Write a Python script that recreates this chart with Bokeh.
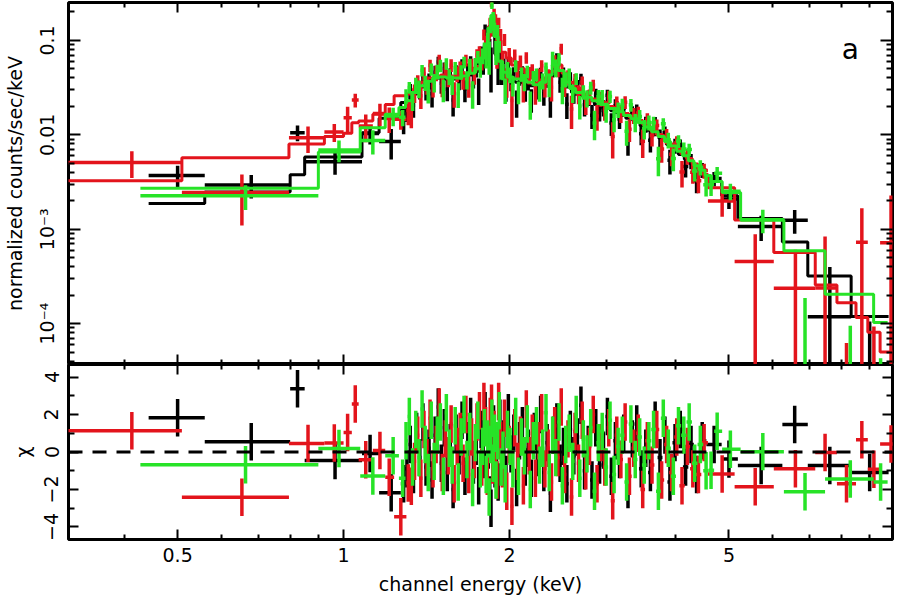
import numpy as np
from bokeh.plotting import figure
from bokeh.models import Range1d, LogAxis, LinearAxis, FixedTicker, Span, Label, CustomJSTickFormatter
from bokeh.layouts import column
from bokeh.embed import file_html
from bokeh.resources import INLINE

# ================= data =================
# ---- BLACK group ----
# wide low-energy bins: edges, centre, model, residual, flux error
bk_lo = [0.443, 0.560, 0.800, 0.850, 1.080, 1.160]
bk_hi = [0.560, 0.800, 0.850, 1.080, 1.160, 1.270]
bk_c = [0.500, 0.680, 0.825, 0.965, 1.117, 1.220]
bk_m = [1.87e-3, 2.48e-3, 3.78e-3, 5.83e-3, 1.05e-2, 1.50e-2]
bk_chi = [1.83, 0.55, 3.38, -0.46, -0.08, -2.17]
bk_err = [1.0e-3, 8.2e-4, 2.0e-3, 1.4e-3, 2.4e-3, 3.0e-3]
# model steps across the crowded 1.3-4.5 keV range (step centres, model)
bk_me = [1.30, 1.34, 1.38, 1.42, 1.46, 1.50, 1.55, 1.60, 1.65, 1.70,
         1.74, 1.78, 1.82, 1.85, 1.87, 1.90, 1.94, 1.98,
         2.02, 2.08, 2.14, 2.20, 2.26, 2.32, 2.38, 2.44, 2.50, 2.56, 2.62, 2.70,
         2.80, 2.90, 3.00, 3.10, 3.20, 3.30, 3.40, 3.50, 3.60, 3.70, 3.80, 3.90,
         4.00, 4.10, 4.20, 4.30, 4.40, 4.50]
bk_mm = [0.022, 0.027, 0.032, 0.036, 0.039, 0.040, 0.039, 0.039, 0.041, 0.043,
         0.047, 0.060, 0.090, 0.140, 0.115, 0.070, 0.048, 0.040,
         0.037, 0.036, 0.035, 0.033, 0.032, 0.035, 0.042, 0.048, 0.041, 0.032, 0.028, 0.026,
         0.023, 0.021, 0.019, 0.018, 0.016, 0.015, 0.014, 0.0125, 0.0112, 0.0100, 0.0089, 0.0079,
         0.0070, 0.0062, 0.0055, 0.0049, 0.0043, 0.0038]
# narrow data bins in the crowded range (centres, residual)
bk_fe = [1.285, 1.303, 1.321, 1.339, 1.357, 1.375, 1.393, 1.411, 1.429, 1.447,
         1.466, 1.485, 1.504, 1.523, 1.542, 1.561, 1.580, 1.600, 1.620, 1.640,
         1.660, 1.680, 1.700, 1.720, 1.740, 1.758, 1.776, 1.792, 1.806, 1.818,
         1.830, 1.841, 1.851, 1.861, 1.871, 1.882, 1.894, 1.907, 1.921, 1.936,
         1.952, 1.970, 1.990, 2.012, 2.036, 2.060, 2.085, 2.110, 2.136, 2.162,
         2.190, 2.218, 2.247, 2.277, 2.308, 2.340, 2.372, 2.404, 2.437, 2.470,
         2.505, 2.541, 2.578, 2.616, 2.655, 2.695, 2.736, 2.778, 2.822, 2.867,
         2.913, 2.961, 3.010, 3.060, 3.112, 3.166, 3.222, 3.280, 3.340, 3.402,
         3.466, 3.533, 3.602, 3.674, 3.749, 3.827, 3.908, 3.992, 4.080, 4.172,
         4.268, 4.368, 4.472]
bk_fchi = [-1.7, -0.9, 0.4, -1.2, 1.1, -0.3, 1.6, -0.8, 0.2, -1.5,
           0.9, 2.4, -0.6, 1.3, -1.1, 0.5, -2.0, 1.0, -0.2, 1.7,
           -1.3, 0.6, 1.9, -0.7, 0.3, -1.8, 1.2, -0.4, 2.2, -1.0,
           0.1, -2.3, -3.0, 0.8, 1.5, -0.9, 0.4, -1.6, 1.8, -0.5,
           0.7, -1.2, 2.1, -0.1, 1.0, -1.9, 0.6, 1.4, -0.8, 0.2,
           -1.4, 1.1, -0.3, 2.0, -1.1, 0.5, -2.2, 0.9, 1.6, -0.6,
           0.3, -1.7, 1.2, -0.2, 0.8, 2.5, -1.0, 0.4, -1.5, 1.3,
           -0.7, 0.1, 1.9, -1.3, 0.6, -0.4, 1.0, -2.0, 0.7, 1.5,
           -0.9, 0.2, -1.1, 1.7, -0.3, 0.9, -1.6, 0.5, 1.2, -0.8,
           0.4, -1.2, 0.6]
bk_frac = 0.2
# wide high-energy bins
bkh_lo = [4.55, 4.85, 5.19, 6.25, 6.95, 8.33]
bkh_hi = [4.85, 5.19, 6.25, 6.95, 8.33, 9.74]
bkh_c = [4.70, 5.00, 5.72, 6.58, 7.62, 9.00]
bkh_m = [3.2e-3, 2.26e-3, 1.30e-3, 7.3e-4, 3.2e-4, 1.19e-4]
bkh_chi = [0.40, -0.38, -0.72, 1.47, -0.72, -1.10]
bkh_err = [6.0e-4, 4.5e-4, 3.2e-4, 3.5e-4, 2.8e-4, 1.4e-4]

# ---- RED group ----
rd_lo = [0.31, 0.509, 0.796, 0.923, 1.000, 1.035, 1.065, 1.130, 1.190, 1.235]
rd_hi = [0.509, 0.796, 0.923, 1.000, 1.035, 1.065, 1.130, 1.190, 1.235, 1.300]
rd_c = [0.413, 0.654, 0.862, 0.962, 1.017, 1.050, 1.097, 1.164, 1.210, 1.270]
rd_m = [3.27e-3, 5.7e-3, 8.0e-3, 9.6e-3, 1.04e-2, 1.34e-2, 1.40e-2, 1.65e-2, 2.10e-2, 2.60e-2]
rd_chi = [1.13, -2.41, 0.46, 0.48, 1.04, 2.56, -0.41, 0.08, -1.35, -3.45]
rd_err = [1.6e-3, 1.35e-3, 2.9e-3, 2.3e-3, 4.6e-3, 3.9e-3, 4.0e-3, 4.5e-3, 4.5e-3, 3.3e-3]
rd_me = [1.32, 1.36, 1.40, 1.44, 1.48, 1.52, 1.57, 1.62, 1.67, 1.72,
         1.76, 1.80, 1.83, 1.86, 1.88, 1.91, 1.95, 1.99,
         2.04, 2.10, 2.16, 2.22, 2.28, 2.34, 2.40, 2.46, 2.52, 2.58, 2.65, 2.74,
         2.84, 2.94, 3.04, 3.14, 3.24, 3.34, 3.44, 3.54, 3.64, 3.74, 3.84, 3.94,
         4.04, 4.14, 4.24, 4.34, 4.44, 4.54]
rd_mm = [0.027, 0.031, 0.036, 0.040, 0.042, 0.043, 0.042, 0.042, 0.044, 0.047,
         0.053, 0.075, 0.110, 0.170, 0.150, 0.100, 0.075, 0.065,
         0.055, 0.050, 0.045, 0.040, 0.038, 0.040, 0.047, 0.055, 0.045, 0.036, 0.031, 0.027,
         0.024, 0.022, 0.020, 0.0185, 0.0168, 0.0155, 0.0142, 0.0128, 0.0114, 0.0101, 0.0090, 0.0080,
         0.0071, 0.0063, 0.0056, 0.0049, 0.0043, 0.0038]
rd_fe = [1.310, 1.327, 1.345, 1.363, 1.381, 1.399, 1.417, 1.435, 1.453, 1.472,
         1.491, 1.510, 1.529, 1.548, 1.567, 1.587, 1.607, 1.627, 1.647, 1.667,
         1.687, 1.707, 1.727, 1.746, 1.764, 1.781, 1.797, 1.810, 1.822, 1.834,
         1.845, 1.855, 1.865, 1.875, 1.886, 1.898, 1.911, 1.926, 1.941, 1.958,
         1.977, 1.997, 2.020, 2.044, 2.068, 2.093, 2.119, 2.145, 2.171, 2.199,
         2.228, 2.257, 2.287, 2.318, 2.350, 2.383, 2.415, 2.448, 2.482, 2.517,
         2.553, 2.591, 2.629, 2.668, 2.709, 2.750, 2.793, 2.837, 2.882, 2.929,
         2.977, 3.027, 3.077, 3.130, 3.184, 3.241, 3.300, 3.360, 3.423, 3.488,
         3.556, 3.626, 3.699, 3.775, 3.854, 3.936, 4.021, 4.110, 4.203, 4.300,
         4.402, 4.508]
rd_fchi = [-1.66, -1.83, -0.5, 0.9, -1.4, 1.2, -0.3, 1.8, -0.9, 0.4,
           2.4, -1.1, 0.7, -0.2, 1.5, -1.7, 0.3, 1.1, -0.6, 2.0,
           -1.2, 0.8, -0.4, 1.6, 2.2, -0.8, 2.7, 1.4, -1.3, 0.5,
           1.9, 2.6, -0.7, 1.2, 0.3, -1.5, 2.7, 0.6, -0.9, 1.8,
           -2.1, 0.4, -2.9, 1.3, -0.5, 0.9, -1.8, 2.3, -0.2, 1.0,
           -1.4, 0.6, 2.1, -0.9, 0.2, -1.6, 1.4, -0.3, 2.4, -1.2,
           0.7, -2.4, 1.1, -0.6, 1.7, -1.0, 0.3, 2.0, -1.7, 0.5,
           -0.8, 1.3, -2.6, 0.9, -0.4, 1.6, -1.3, 0.2, 1.0, -2.0,
           0.6, -0.7, 1.2, -1.5, 0.4, -1.1, 0.8, -1.8, 0.3, -0.9,
           -1.2, 0.5]
rd_frac = 0.2
rdh_lo = [4.58, 5.12, 6.03, 7.17, 7.85, 8.50, 8.93, 9.40]
rdh_hi = [5.12, 6.03, 7.17, 7.85, 8.50, 8.93, 9.40, 10.3]
rdh_c = [4.86, 5.58, 6.60, 7.47, 8.17, 8.71, 9.16, 9.84]
rdh_m = [2.75e-3, 1.25e-3, 5.66e-4, 2.57e-4, 1.66e-4, 1.16e-4, 8.1e-5, 5.0e-5]
rdh_chi = [-1.18, -1.85, -0.89, -0.03, -1.69, 0.65, -0.92, 0.43]
rdh_err = [6.4e-4, 4.3e-4, 3.7e-4, 6.0e-4, 1.5e-4, 9.4e-4, 1.5e-4, 1.56e-3]

# ---- GREEN group ----
gr_lo = [0.428, 0.900, 1.072, 1.190, 1.260]
gr_hi = [0.900, 1.072, 1.190, 1.260, 1.295]
gr_c = [0.664, 0.981, 1.130, 1.230, 1.280]
gr_m = [2.71e-3, 6.58e-3, 1.19e-2, 1.65e-2, 1.95e-2]
gr_chi = [-0.68, 0.19, -1.28, -0.20, -1.40]
gr_err = [6.6e-4, 1.8e-3, 2.5e-3, 3.5e-3, 3.0e-3]
gr_me = [1.31, 1.35, 1.39, 1.43, 1.47, 1.51, 1.56, 1.61, 1.66, 1.71,
         1.75, 1.79, 1.815, 1.84, 1.86, 1.89, 1.925, 1.96,
         2.00, 2.06, 2.12, 2.18, 2.24, 2.30, 2.36, 2.42, 2.48, 2.54, 2.60, 2.67,
         2.77, 2.87, 2.97, 3.07, 3.17, 3.27, 3.37, 3.47, 3.57, 3.67, 3.77, 3.87,
         3.97, 4.07, 4.17, 4.27, 4.37, 4.47, 4.58, 4.70]
gr_mm = [0.023, 0.028, 0.033, 0.037, 0.040, 0.041, 0.040, 0.040, 0.042, 0.045,
         0.050, 0.065, 0.090, 0.135, 0.185, 0.110, 0.060, 0.046,
         0.041, 0.039, 0.038, 0.036, 0.034, 0.036, 0.043, 0.055, 0.048, 0.036, 0.031, 0.028,
         0.025, 0.023, 0.021, 0.019, 0.0175, 0.016, 0.0148, 0.0135, 0.0121, 0.0108, 0.0096, 0.0085,
         0.0076, 0.0067, 0.0060, 0.0053, 0.0047, 0.0042, 0.0037, 0.0032]
gr_fe = [1.298, 1.316, 1.334, 1.352, 1.370, 1.388, 1.406, 1.424, 1.442, 1.460,
         1.479, 1.498, 1.517, 1.536, 1.555, 1.574, 1.594, 1.614, 1.634, 1.654,
         1.674, 1.694, 1.714, 1.734, 1.752, 1.770, 1.787, 1.801, 1.814, 1.826,
         1.837, 1.848, 1.858, 1.868, 1.878, 1.890, 1.902, 1.916, 1.931, 1.946,
         1.964, 1.983, 2.004, 2.028, 2.052, 2.076, 2.102, 2.128, 2.154, 2.181,
         2.209, 2.238, 2.267, 2.297, 2.329, 2.361, 2.394, 2.426, 2.459, 2.494,
         2.529, 2.566, 2.604, 2.642, 2.682, 2.722, 2.764, 2.807, 2.852, 2.898,
         2.945, 2.994, 3.043, 3.095, 3.148, 3.203, 3.261, 3.320, 3.381, 3.444,
         3.510, 3.579, 3.650, 3.724, 3.801, 3.881, 3.964, 4.050, 4.141, 4.235,
         4.334, 4.437, 4.545, 4.640, 4.760]
gr_fchi = [0.6, 1.9, -0.8, 1.2, -0.3, 2.3, 0.4, -1.1, 1.7, -0.5,
           0.9, 1.6, -1.3, 2.1, 0.2, -0.7, 1.4, -1.6, 0.8, 2.0,
           -0.4, 1.1, -1.9, 0.5, 1.7, -0.9, 0.3, 1.3, -1.2, 0.7,
           -2.4, 0.4, 1.8, -0.6, 1.0, -1.5, 0.6, 2.2, -0.8, 0.1,
           -1.7, 1.2, 0.3, -0.9, 1.9, -1.3, 0.8, -0.2, 1.5, -2.0,
           0.6, 1.4, -0.7, 0.2, 2.1, -1.1, 0.9, -0.3, 1.6, -1.8,
           0.4, 1.0, -0.5, 2.0, -1.4, 0.7, -0.1, 1.3, -2.1, 0.5,
           1.1, -0.8, 1.7, -1.2, 0.3, 0.9, -1.6, 1.5, -0.4, 0.8,
           -0.7, 0.6, 1.2, -2.1, 1.8, 0.2, -1.3, 1.4, 0.9, 1.6,
           -0.6, 0.4, -1.0, -0.97, 1.11]
gr_frac = 0.2
grh_lo = [4.86, 5.25, 6.29, 7.47, 9.15]
grh_hi = [5.25, 6.29, 7.47, 9.15, 9.70]
grh_c = [5.03, 5.76, 6.87, 8.30, 9.42]
grh_m = [2.45e-3, 1.25e-3, 5.9e-4, 2.05e-4, 1.03e-4]
grh_chi = [0.15, 0.02, -2.12, -1.44, -1.60]
grh_err = [5.0e-4, 3.5e-4, 3.6e-4, 2.5e-4, 1.0e-4]

# ---- axes ----
x_ticks = [0.5, 1, 2, 5]
x_minor = [0.4, 0.6, 0.7, 0.8, 0.9, 3, 4, 6, 7, 8, 9]
y_ticks = [1e-4, 1e-3, 1e-2, 1e-1]
y_labels = {1e-4: "10\u207b\u2074", 1e-3: "10\u207b\u00b3", 1e-2: "0.01", 1e-1: "0.1"}
r_ticks = [-4, -2, 0, 2, 4]
r_minor = [-3, -1, 1, 3]
r_labels = {-4: "\u22124", -2: "\u22122", 0: "0", 2: "2", 4: "4"}

# ================= assembly =================
FONT = "DejaVu Sans"
FS = "19px"
COLS = ["#000000", "#e3141c", "#27e327"]


def edges_from_centres(cent, first_lo, last_hi):
    cent = np.asarray(cent, float)
    mids = 0.5 * (cent[1:] + cent[:-1])
    return np.concatenate([[first_lo], mids]), np.concatenate([mids, [last_hi]])


def assemble(lo_s, hi_s, c_s, m_s, chi_s, err_s, me, mm, fe, fchi, frac,
             lo_h, hi_h, c_h, m_h, chi_h, err_h):
    m_lo, m_hi = edges_from_centres(me, hi_s[-1], lo_h[0])
    mod_lo = np.concatenate([lo_s, m_lo, lo_h])
    mod_hi = np.concatenate([hi_s, m_hi, hi_h])
    mod_v = np.concatenate([m_s, mm, m_h])
    f_lo, f_hi = edges_from_centres(fe, hi_s[-1], lo_h[0])
    fe = np.asarray(fe, float)
    idx = np.searchsorted(mod_hi, fe, side="right")
    f_m = mod_v[idx]
    lo = np.concatenate([lo_s, f_lo, lo_h])
    hi = np.concatenate([hi_s, f_hi, hi_h])
    c = np.concatenate([c_s, fe, c_h])
    m = np.concatenate([m_s, f_m, m_h])
    chi = np.concatenate([chi_s, fchi, chi_h])
    err = np.concatenate([err_s, frac * f_m, err_h])
    data = m + chi * err
    return dict(lo=lo, hi=hi, c=c, chi=chi, err=err, data=data,
                mod_lo=mod_lo, mod_hi=mod_hi, mod_v=mod_v)


groups = [
    assemble(bk_lo, bk_hi, bk_c, bk_m, bk_chi, bk_err, bk_me, bk_mm, bk_fe, bk_fchi, bk_frac,
             bkh_lo, bkh_hi, bkh_c, bkh_m, bkh_chi, bkh_err),
    assemble(rd_lo, rd_hi, rd_c, rd_m, rd_chi, rd_err, rd_me, rd_mm, rd_fe, rd_fchi, rd_frac,
             rdh_lo, rdh_hi, rdh_c, rdh_m, rdh_chi, rdh_err),
    assemble(gr_lo, gr_hi, gr_c, gr_m, gr_chi, gr_err, gr_me, gr_mm, gr_fe, gr_fchi, gr_frac,
             grh_lo, grh_hi, grh_c, grh_m, grh_chi, grh_err),
]

W = 895
LB = 60
RB = 3
x_range = Range1d(0.317, 9.9)

p1 = figure(width=W, height=364, x_axis_type="log", y_axis_type="log",
            x_range=x_range, y_range=Range1d(3.69e-5, 0.252),
            output_backend="svg", toolbar_location=None,
            min_border_left=LB, min_border_right=RB, min_border_top=2, min_border_bottom=0)
p2 = figure(width=W, height=233, x_axis_type="log",
            x_range=x_range, y_range=Range1d(-4.67, 4.67),
            output_backend="svg", toolbar_location=None,
            min_border_left=LB, min_border_right=RB, min_border_top=0, min_border_bottom=0)

empty_fmt = CustomJSTickFormatter(code="return '';")


def style(ax, major, minor, labels=True):
    ax.major_tick_in = major
    ax.major_tick_out = 0
    ax.minor_tick_in = minor
    ax.minor_tick_out = 0
    ax.major_tick_line_width = 2
    ax.minor_tick_line_width = 2
    ax.major_tick_line_color = "black"
    ax.minor_tick_line_color = "black"
    ax.axis_line_color = None
    if labels:
        ax.major_label_text_font = FONT
        ax.major_label_text_font_size = FS
        ax.major_label_text_color = "black"
        ax.axis_label_text_font = FONT
        ax.axis_label_text_font_size = FS
        ax.axis_label_text_font_style = "normal"
        ax.axis_label_text_color = "black"
    else:
        ax.formatter = empty_fmt
        ax.major_label_text_font_size = "0px"
        ax.major_label_standoff = 0
        ax.axis_label = None


minor_log = [k * 10.0 ** d for d in range(-6, 1) for k in range(2, 10)]
xt = FixedTicker(ticks=x_ticks, minor_ticks=x_minor)
yt = FixedTicker(ticks=y_ticks, minor_ticks=minor_log)
rt = FixedTicker(ticks=r_ticks, minor_ticks=r_minor)

for p in (p1, p2):
    p.xgrid.visible = False
    p.ygrid.visible = False
    p.outline_line_color = "black"
    p.outline_line_width = 3
    p.background_fill_color = "white"
    p.border_fill_color = "white"

p1.xaxis.ticker = xt
style(p1.xaxis[0], 10, 5, labels=False)
p1.yaxis.ticker = yt
style(p1.yaxis[0], 12, 6)
p1.yaxis.major_label_overrides = y_labels
p1.yaxis.major_label_orientation = "vertical"
p1.yaxis.axis_label = "normalized counts/sec/keV"
p1.yaxis.major_label_standoff = 10
p1.yaxis.axis_label_standoff = 8
ax = LogAxis(ticker=xt)
style(ax, 10, 5, labels=False)
p1.add_layout(ax, "above")
ax = LogAxis(ticker=yt)
style(ax, 12, 6, labels=False)
p1.add_layout(ax, "right")

p2.xaxis.ticker = xt
style(p2.xaxis[0], 10, 5)
p2.xaxis.axis_label = "channel energy (keV)"
p2.xaxis.major_label_standoff = 8
p2.xaxis.axis_label_standoff = 8
p2.yaxis.ticker = rt
style(p2.yaxis[0], 10, 6)
p2.yaxis.major_label_overrides = r_labels
p2.yaxis.major_label_orientation = "vertical"
p2.yaxis.axis_label = "\u03c7"
p2.yaxis.major_label_standoff = 10
p2.yaxis.axis_label_standoff = 8
ax = LogAxis(ticker=xt)
style(ax, 10, 5, labels=False)
p2.add_layout(ax, "above")
ax = LinearAxis(ticker=rt)
style(ax, 10, 6, labels=False)
p2.add_layout(ax, "right")

FLOOR = 1e-8
LW = 3.5
for g, col in zip(groups, COLS):
    d = g["data"]
    dpos = np.where(d > 0, d, FLOOR)
    low = np.clip(d - g["err"], FLOOR, None)
    high = np.clip(d + g["err"], FLOOR, None)
    p1.segment(g["lo"], dpos, g["hi"], dpos, line_color=col, line_width=LW)
    p1.segment(g["c"], low, g["c"], high, line_color=col, line_width=LW)
    xs = np.column_stack([g["mod_lo"], g["mod_hi"]]).ravel()
    ys = np.repeat(g["mod_v"], 2)
    p1.line(xs, ys, line_color=col, line_width=3)
    p2.segment(g["lo"], g["chi"], g["hi"], g["chi"], line_color=col, line_width=LW)
    p2.segment(g["c"], g["chi"] - 1.0, g["c"], g["chi"] + 1.0, line_color=col, line_width=LW)

p2.add_layout(Span(location=0, dimension="width", line_color="black",
                   line_width=3, line_dash="14 10"))
p1.add_layout(Label(x=8.3, y=0.08, text="a", text_font=FONT, text_font_size="28px",
                    text_align="center", text_baseline="alphabetic", text_color="black"))

layout = column(p1, p2)
open("out.html", "w").write(file_html(layout, INLINE))
